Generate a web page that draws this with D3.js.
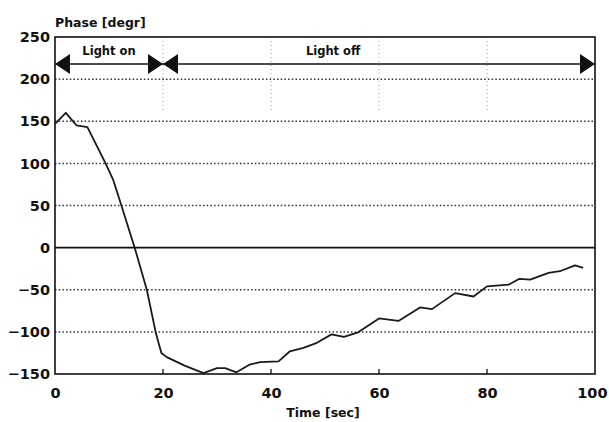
<!DOCTYPE html>
<html>
<head>
<meta charset="utf-8">
<script src="https://cdn.jsdelivr.net/npm/d3@7"></script>
<style>
  html, body { margin: 0; padding: 0; background: #fff; }
  svg text { font-family: "DejaVu Sans", sans-serif; font-weight: bold; fill: #111; }
</style>
</head>
<body>
<div id="container"></div>
<script>
"use strict";

// phase response
var time = [0, 2, 4, 6, 9.3, 10.8, 12, 14.8, 17, 18.7, 19.7, 20.7, 24, 27.5, 30, 31.5, 33.6, 36, 38, 41.4, 43.5, 46, 48.5, 51.2, 53.5, 56, 60, 63.6, 67.6, 69.8, 74.1, 77.5, 80, 84, 86, 88, 91.4, 93.5, 96.3, 97.8];
var phase = [147, 160, 145, 143, 101, 80, 56, -1, -50, -102, -125, -130, -140, -149, -143, -143, -148, -139, -136, -135, -123, -119, -113, -103, -106, -101, -84, -87, -71, -73, -54, -58, -46, -44, -37, -38, -30, -28, -21, -24];

var xTicks = [0, 20, 40, 60, 80, 100];
var yTicks = [250, 200, 150, 100, 50, 0, -50, -100, -150];
var yGrid = [200, 150, 100, 50, -50, -100];

// light on / off periods
var periodLabels = ["Light on", "Light off"];
var periodStart = [0, 20];
var periodEnd = [20, 100];
var periodLabelAt = [10, 51.5];
var arrowLevel = 218;

var width = 609;
var height = 422;
var margin = { top: 37, right: 14, bottom: 48, left: 55 };

var svg = d3.select("#container").append("svg")
    .attr("width", width)
    .attr("height", height);

var x = d3.scaleLinear().domain([0, 100]).range([margin.left, width - margin.right]);
var y = d3.scaleLinear().domain([-150, 250]).range([height - margin.bottom, margin.top]);

//dotted horizontal grid
svg.selectAll("line.hgrid").data(yGrid).enter().append("line")
    .attr("class", "hgrid")
    .attr("x1", x(0)).attr("x2", x(100))
    .attr("y1", function (d) { return y(d); })
    .attr("y2", function (d) { return y(d); })
    .style("stroke", "#333")
    .style("stroke-width", 1.5)
    .style("stroke-dasharray", "1.5,2.2");

//faint vertical grid, only survives near the top
svg.selectAll("line.vgrid").data(xTicks.slice(1, 5)).enter().append("line")
    .attr("class", "vgrid")
    .attr("x1", function (d) { return x(d); })
    .attr("x2", function (d) { return x(d); })
    .attr("y1", y(250)).attr("y2", y(160))
    .style("stroke", "#999")
    .style("stroke-width", 1)
    .style("stroke-dasharray", "1,3");

//zero line
svg.append("line")
    .attr("x1", x(0)).attr("x2", x(100))
    .attr("y1", y(0)).attr("y2", y(0))
    .style("stroke", "#111")
    .style("stroke-width", 1.6);

//axes with inner ticks on the bottom
var xAxis = d3.axisBottom(x).tickValues(xTicks).tickSize(0).tickPadding(14);
var gx = svg.append("g").attr("transform", "translate(0," + y(-150) + ")").call(xAxis);
gx.select(".domain").remove();
gx.selectAll("text").style("font-size", "14.5px").style("font-family", "DejaVu Sans").style("font-weight", "bold").attr("fill", "#111");
//last label sits against the page edge
gx.selectAll("text").filter(function (d) { return d === 100; }).attr("text-anchor", "end").attr("dx", 12);

svg.selectAll("line.xtick").data(xTicks.slice(1, 5)).enter().append("line")
    .attr("class", "xtick")
    .attr("x1", function (d) { return x(d); })
    .attr("x2", function (d) { return x(d); })
    .attr("y1", y(-150)).attr("y2", y(-150) - 5)
    .style("stroke", "#111")
    .style("stroke-width", 1.3);

var yAxis = d3.axisLeft(y).tickValues(yTicks).tickSize(0).tickPadding(5);
var gy = svg.append("g").attr("transform", "translate(" + x(0) + ",0)").call(yAxis);
gy.select(".domain").remove();
gy.selectAll("text").style("font-size", "14.5px").style("font-family", "DejaVu Sans").style("font-weight", "bold").attr("fill", "#111");

//frame
svg.append("rect")
    .attr("x", x(0)).attr("y", y(250))
    .attr("width", x(100) - x(0))
    .attr("height", y(-150) - y(250))
    .style("fill", "none")
    .style("stroke", "#111")
    .style("stroke-width", 1.6);

//the curve
var line = d3.line()
    .x(function (d, i) { return x(time[i]); })
    .y(function (d) { return y(d); });

svg.append("path")
    .datum(phase)
    .attr("d", line)
    .style("fill", "none")
    .style("stroke", "#1a1a1a")
    .style("stroke-width", 1.8)
    .style("stroke-linejoin", "round");

//light on / off arrows
var ay = y(arrowLevel);
svg.append("line")
    .attr("x1", x(0)).attr("x2", x(100))
    .attr("y1", ay).attr("y2", ay)
    .style("stroke", "#111")
    .style("stroke-width", 1.6);

function arrowHead(tip, dir) {
    var len = 15, half = 10;
    var base = tip + dir * len;
    return [[tip, ay], [base, ay - half], [base, ay + half]].join(" ");
}

periodStart.forEach(function (s, i) {
    svg.append("polygon").attr("points", arrowHead(x(s), 1)).style("fill", "#111");
    svg.append("polygon").attr("points", arrowHead(x(periodEnd[i]), -1)).style("fill", "#111");
    svg.append("text")
        .attr("x", x(periodLabelAt[i]))
        .attr("y", ay - 9)
        .attr("text-anchor", "middle")
        .style("font-size", "11.5px")
        .text(periodLabels[i]);
});

//titles
svg.append("text")
    .attr("x", x(0))
    .attr("y", 27)
    .style("font-size", "12.5px")
    .text("Phase [degr]");

svg.append("text")
    .attr("x", 323)
    .attr("y", 417)
    .attr("text-anchor", "middle")
    .style("font-size", "12.5px")
    .text("Time [sec]");
</script>
</body>
</html>
